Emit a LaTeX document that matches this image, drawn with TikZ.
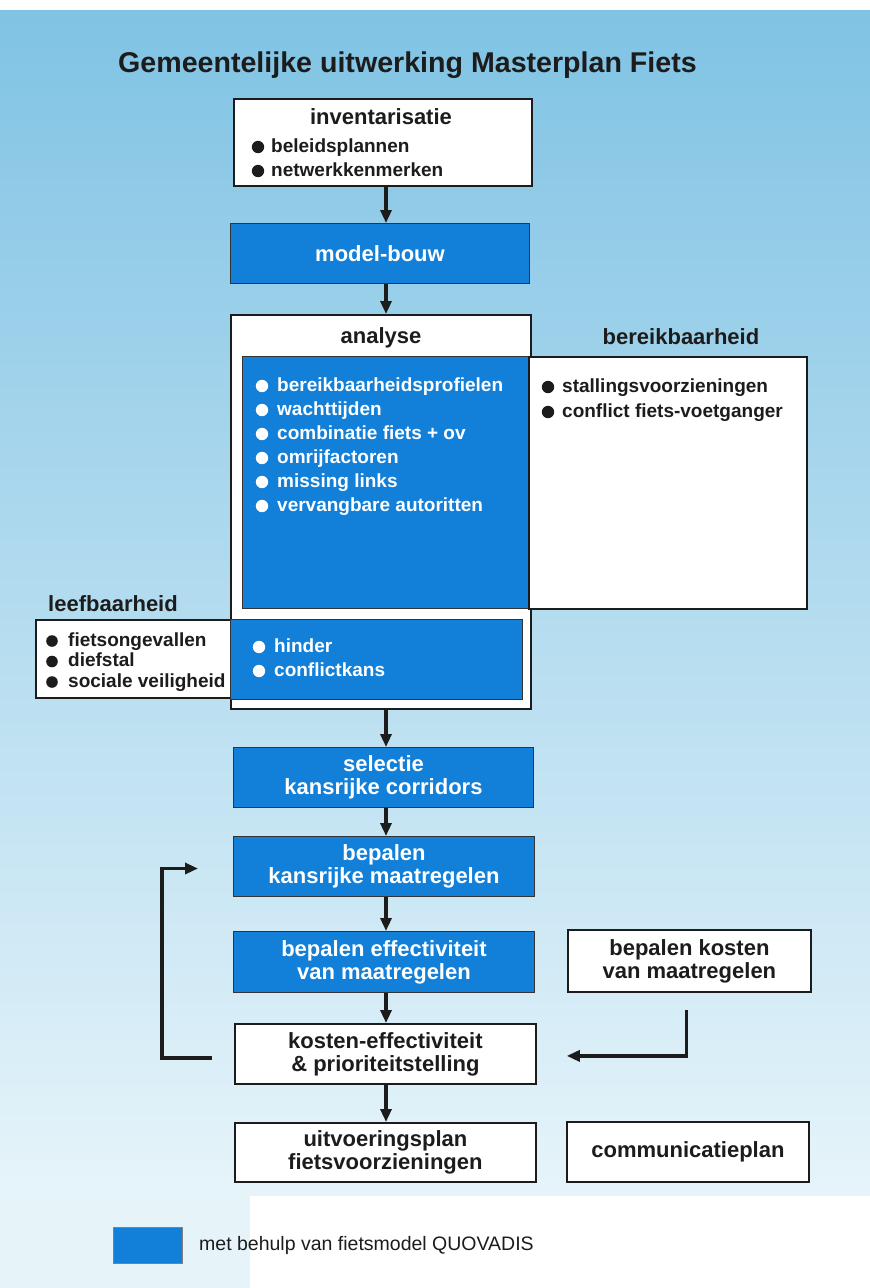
\documentclass[tikz,border=0pt]{standalone}
\usepackage{fontspec}
\setmainfont{Liberation Sans}
\usetikzlibrary{arrows.meta,calc}
\definecolor{qblue}{RGB}{18,128,216}
\definecolor{bgtop}{RGB}{128,195,228}
\definecolor{bgbot}{RGB}{230,244,250}
\definecolor{ink}{RGB}{28,28,28}
\begin{document}
\begin{tikzpicture}[x=1pt,y=-1pt,
  box/.style={draw=ink, line width=1.8pt, fill=white, inner sep=0, anchor=north west},
  bluebox/.style={draw=black!80, line width=1pt, fill=qblue, inner sep=0, anchor=north west, text=white},
  lbl/.style={font=\bfseries\fontsize{22}{23}\selectfont, align=center},
  head/.style={font=\bfseries\fontsize{22}{23}\selectfont, inner sep=0, text=ink},
  item/.style={font=\bfseries\fontsize{19}{20}\selectfont, inner sep=0, anchor=base west},
  arr/.style={draw=ink, line width=3.2pt, -{Triangle[length=13pt,width=11pt]}},
  bul/.style={fill=ink}
]
% background
\fill[white] (0,0) rectangle (870,1288);
\shade[top color=bgtop, bottom color=bgbot] (0,10) rectangle (870,1195);
\fill[bgbot] (0,1195) rectangle (250,1288);
\useasboundingbox (0,0) rectangle (870,1288);

% title
\node[anchor=base west, inner sep=0, text=ink, font=\bfseries\fontsize{28.6}{30}\selectfont] (title) at (118,72) {Gemeentelijke uitwerking Masterplan Fiets};

% inventarisatie
\node[box, minimum width=298, minimum height=87] (inv) at (233,98) {};
\node[head, anchor=base] (invT) at (381,124) {inventarisatie};
\foreach \t [count=\i from 0] in {beleidsplannen, netwerkkenmerken} {
  \fill[bul] (258,{147+24*\i}) circle (6.2);
  \node[item, text=ink] (inv\i) at (271,{152+24*\i}) {\t};
}

% model-bouw
\node[bluebox, lbl, minimum width=299, minimum height=60] (model) at (230,223) {model-bouw};

% analyse block
\node[box, minimum width=300, minimum height=394] (ana) at (230,314) {};
\node[bluebox, minimum width=286, minimum height=252] (anab) at (242,356) {};
\node[box, minimum width=278, minimum height=252] (ber) at (528,356) {};
\node[head, anchor=base] (anaT) at (381,343) {analyse};
\node[head, anchor=base] (berT) at (681,344) {bereikbaarheid};
\foreach \t [count=\i from 0] in {bereikbaarheidsprofielen, wachttijden, combinatie fiets + ov, omrijfactoren, missing links, vervangbare autoritten} {
  \fill[white] (262,{386+24*\i}) circle (6.2);
  \node[item, text=white] (ab\i) at (277,{391+24*\i}) {\t};
}
\foreach \t [count=\i from 0] in {stallingsvoorzieningen, conflict fiets-voetganger} {
  \fill[bul] (548,{387+25*\i}) circle (6.2);
  \node[item, text=ink] (be\i) at (562,{392+25*\i}) {\t};
}

% leefbaarheid
\node[box, minimum width=195, minimum height=78] (leef) at (35,619) {};
\node[bluebox, minimum width=292, minimum height=80] (anab2) at (230,619) {};
\node[head, anchor=base west] (leefT) at (48,611) {leefbaarheid};
\foreach \t [count=\i from 0] in {fietsongevallen, diefstal, sociale veiligheid} {
  \fill[bul] (52,{641+20.5*\i}) circle (5.8);
  \node[item, text=ink] (le\i) at (68,{646+20.5*\i}) {\t};
}
\foreach \t [count=\i from 0] in {hinder, conflictkans} {
  \fill[white] (259,{647+24*\i}) circle (6.2);
  \node[item, text=white] (hi\i) at (274,{652+24*\i}) {\t};
}

% lower chain
\node[bluebox, lbl, minimum width=300, minimum height=60] (sel) at (233,747) {selectie\\kansrijke corridors};
\node[bluebox, lbl, minimum width=301, minimum height=60] (kans) at (233,836) {bepalen\\kansrijke maatregelen};
\node[bluebox, lbl, minimum width=301, minimum height=61] (eff) at (233,931) {bepalen effectiviteit\\van maatregelen};
\node[box, lbl, text=ink, minimum width=243, minimum height=62] (kost) at (567,929) {bepalen kosten\\van maatregelen};
\node[box, lbl, text=ink, minimum width=301, minimum height=60] (keff) at (234,1023) {kosten-effectiviteit\\\& prioriteitstelling};
\node[box, lbl, text=ink, minimum width=301, minimum height=59] (uitv) at (234,1122) {uitvoeringsplan\\fietsvoorzieningen};
\node[box, lbl, text=ink, minimum width=242, minimum height=60] (comm) at (566,1121) {communicatieplan};

% main arrows
\coordinate (ax) at (386,0);
\draw[arr] (inv.south -| ax) -- (model.north -| ax);
\draw[arr] (model.south -| ax) -- (ana.north -| ax);
\draw[arr] (ana.south -| ax) -- (sel.north -| ax);
\draw[arr] (sel.south -| ax) -- (kans.north -| ax);
\draw[arr] (kans.south -| ax) -- (eff.north -| ax);
\draw[arr] (eff.south -| ax) -- (keff.north -| ax);
\draw[arr] (keff.south -| ax) -- (uitv.north -| ax);

% feedback loop
\draw[arr] ($(keff.west)+(-22,4)$) -| ($(kans.west)+(-71,2)$) -- ($(kans.west)+(-35,2)$);
% cost arrow
\draw[arr] ($(kost.south)+(-3,17)$) |- ($(keff.east)+(30,2)$);

% legend
\node[fill=qblue, draw=black!50, line width=0.6pt, anchor=north west, minimum width=69, minimum height=36, inner sep=0] (leg) at (113,1227) {};
\node[anchor=west, inner sep=0, text=ink, font=\fontsize{19.5}{20}\selectfont] (legT) at (199,1245) {met behulp van fietsmodel QUOVADIS};
\end{tikzpicture}
\end{document}
